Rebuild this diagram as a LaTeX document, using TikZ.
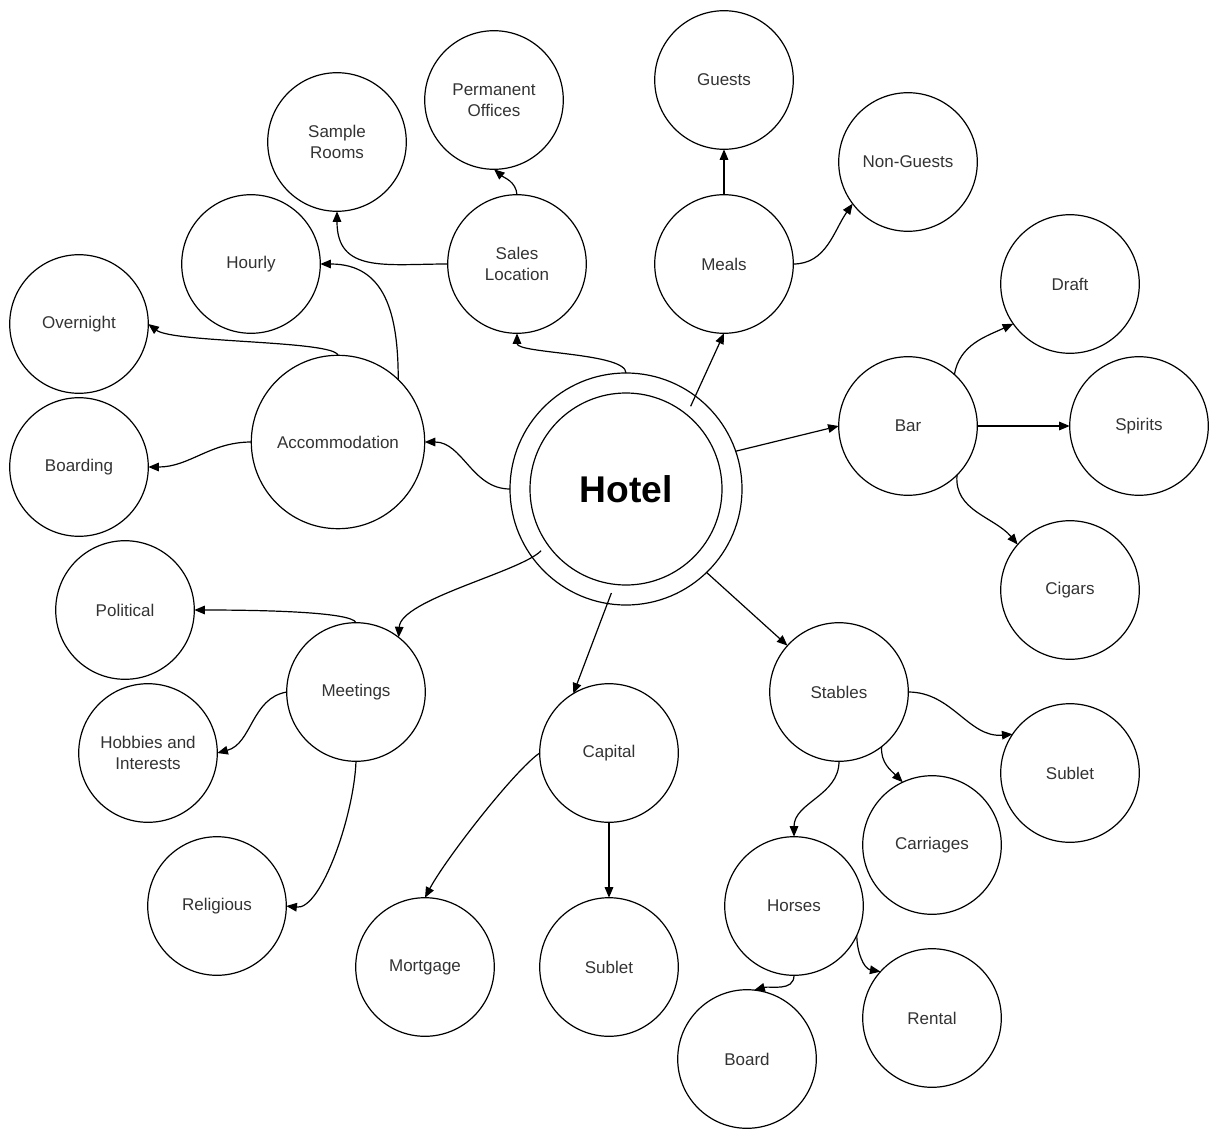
\documentclass[tikz,border=0pt]{standalone}
\usepackage{fontspec}
\setmainfont{Liberation Sans}
\usetikzlibrary{arrows.meta}

\begin{document}
\begin{tikzpicture}[x=0.5pt,y=0.5pt,line width=0.6pt]
	\tikzstyle{bubble}=[circle,draw=black,text=black!80,minimum size=69.3pt,inner sep=0pt,outer sep=0pt,align=center,font=\fontsize{8.5}{10.5}\selectfont]
	\tikzstyle{arr}=[-{Triangle[length=5.3pt,width=4.3pt]}]
	\useasboundingbox (0,0) rectangle (1209,-1129);
	% centre
	\node[circle,draw=black,minimum size=96pt,inner sep=0pt,outer sep=0pt,font=\fontsize{18.6}{20}\selectfont\bfseries](hotel) at (626,-489) {Hotel};
	\node[circle,draw=black,minimum size=116pt,outer sep=0pt](ring) at (626,-489) {};
	\node[circle,minimum size=105pt,outer sep=0pt](mid) at (626,-489) {};
	% top
	\node[bubble](guests) at (724,-80) {Guests};
	\node[bubble](nonguests) at (908,-162) {Non-Guests};
	\node[bubble](meals) at (724,-264) {Meals};
	\node[bubble](offices) at (494,-100) {Permanent\\Offices};
	\node[bubble](samples) at (337,-142) {Sample\\Rooms};
	\node[bubble](sales) at (517,-264) {Sales\\Location};
	\node[bubble](hourly) at (251,-264) {Hourly};
	\node[bubble](overnight) at (79,-324) {Overnight};
	\node[bubble,minimum size=86.7pt](accom) at (338,-442) {Accommodation};
	\node[bubble](boarding) at (79,-467) {Boarding};
	% right
	\node[bubble](draft) at (1070,-284) {Draft};
	\node[bubble](bar) at (908,-426) {Bar};
	\node[bubble](spirits) at (1139,-426) {Spirits};
	\node[bubble](cigars) at (1070,-590) {Cigars};
	% bottom
	\node[bubble](political) at (125,-610) {Political};
	\node[bubble](meetings) at (356,-692) {Meetings};
	\node[bubble](hobbies) at (148,-753) {Hobbies and\\Interests};
	\node[bubble](religious) at (217,-906) {Religious};
	\node[bubble](capital) at (609,-753) {Capital};
	\node[bubble](mortgage) at (425,-967) {Mortgage};
	\node[bubble](subletc) at (609,-967) {Sublet};
	\node[bubble](stables) at (839,-692) {Stables};
	\node[bubble](sublets) at (1070,-773) {Sublet};
	\node[bubble](carriages) at (932,-845) {Carriages};
	\node[bubble](horses) at (794,-906) {Horses};
	\node[bubble](rental) at (932,-1018) {Rental};
	\node[bubble](board) at (747,-1059) {Board};
	% links
	\draw[arr](ring.90) to[out=90,in=-90,looseness=0.45] (sales.south);
	\draw[arr](sales.west) to[out=180,in=-90,looseness=1.3] (samples.south);
	\draw[arr](sales.north) to[out=95,in=-40] (offices.south);
	\draw[arr](ring.180) to[out=180,in=0] (accom.east);
	\draw[arr](accom.46) to[out=90,in=0,looseness=1.2] (hourly.east);
	\draw[arr](accom.north) .. controls +(-4,15) and +(25,-19) .. (overnight.east);
	\draw[arr](accom.west) to[out=180,in=0] (boarding.east);
	\draw[arr](mid.52) -- (meals.south);
	\draw[arr](meals.north) -- (guests.south);
	\draw[arr](meals.east) to[out=0,in=235] (nonguests.217);
	\draw[arr](ring.19) -- (bar.west);
	\draw[arr](bar.48) to[out=80,in=205] (draft.215);
	\draw[arr](bar.east) -- (spirits.west);
	\draw[arr](bar.-45) to[out=-95,in=130] (cigars.139);
	\draw[arr](mid.216) .. controls +(-20,-21) and +(2,38) .. (meetings.52);
	\draw[arr](meetings.north) .. controls +(-4,11) and +(65,0) .. (political.east);
	\draw[arr](meetings.west) to[out=190,in=15] (hobbies.east);
	\draw[arr](meetings.south) .. controls +(-2,-54) and +(35,-4) .. (religious.east);
	\draw[arr](mid.-98) -- (capital.121);
	\draw[arr](capital.west) .. controls +(-25,-17) and +(20,38) .. (mortgage.north);
	\draw[arr](capital.south) -- (subletc.north);
	\draw[arr](ring.-46) -- (stables.138);
	\draw[arr](stables.east) to[out=0,in=185] (sublets.146);
	\draw[arr](stables.-52) to[out=-95,in=135] (carriages.115);
	\draw[arr](stables.south) to[out=-90,in=90] (horses.north);
	\draw[arr](horses.-25) to[out=-90,in=170] (rental.138);
	\draw[arr](horses.south) to[out=-90,in=15] (board.84);
\end{tikzpicture}
\end{document}
